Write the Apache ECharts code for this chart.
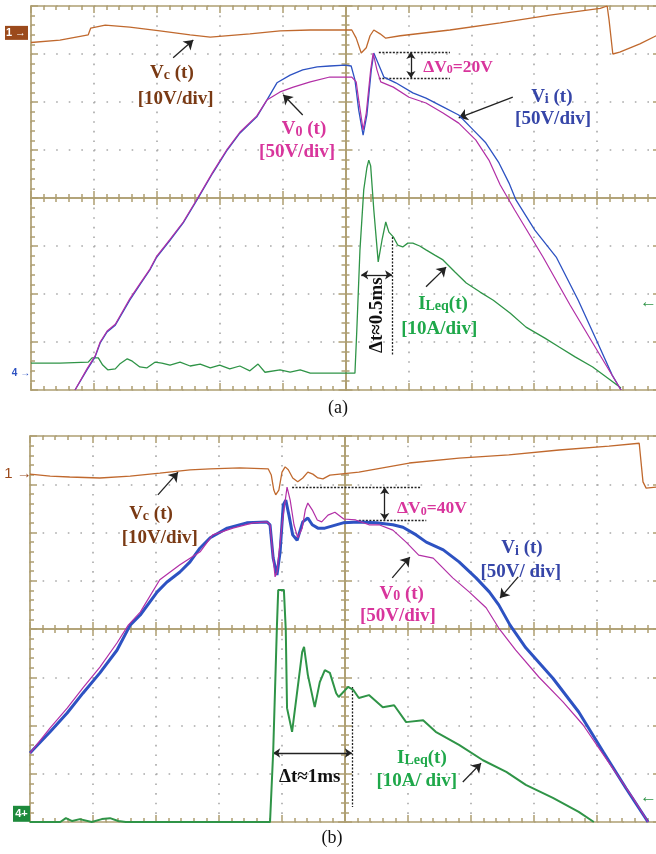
<!DOCTYPE html>
<html>
<head>
<meta charset="utf-8">
<script src="https://cdn.jsdelivr.net/npm/echarts@6/dist/echarts.min.js"></script>
<style>
html,body{margin:0;padding:0;background:#fff;}
#chart{width:656px;height:854px;}
</style>
</head>
<body>
<div id="chart"></div>
<script>
// ---------- DATA (x in divisions 0..10, y in divisions -4..4, 0 = centre line) ----------
// Panel (a)
const vcA = [[0,3.24],[0.46,3.29],[0.91,3.40],[0.95,3.54],[1.18,3.60],[1.57,3.56],[2.05,3.48],[2.53,3.40],[2.85,3.35],[3.48,3.42],[3.96,3.48],[4.44,3.50],[5.10,3.50],[5.17,3.33],[5.25,3.02],[5.33,3.13],[5.39,3.38],[5.45,3.50],[5.55,3.42],[5.64,3.33],[5.87,3.38],[6.66,3.50],[7.46,3.65],[8.25,3.81],[9.05,3.95],[9.16,4.0],[9.19,3.71],[9.25,3.00],[9.36,3.04],[9.68,3.21],[9.94,3.38]];
const viA = [[0.70,-4.0],[0.89,-3.58],[1.02,-3.31],[1.10,-3.02],[1.21,-2.79],[1.34,-2.65],[1.57,-2.13],[1.73,-1.81],[1.89,-1.50],[2.00,-1.23],[2.21,-0.88],[2.42,-0.52],[2.64,-0.04],[2.89,0.52],[3.12,1.0],[3.32,1.35],[3.59,1.69],[3.75,2.04],[3.91,2.40],[4.12,2.56],[4.32,2.67],[4.55,2.73],[4.75,2.75],[4.99,2.77],[5.09,2.75],[5.15,2.46],[5.21,1.83],[5.28,1.31],[5.34,1.73],[5.41,2.67],[5.45,3.02],[5.61,2.52],[5.80,2.40],[6.07,2.19],[6.28,2.08],[6.55,1.90],[6.80,1.73],[7.03,1.42],[7.23,1.15],[7.44,0.73],[7.60,0.31],[7.71,-0.04],[8.01,-0.67],[8.35,-1.23],[8.70,-2.13],[9.01,-3.02],[9.24,-3.69],[9.38,-4.0]];
const v0A = [[0.70,-4.0],[0.89,-3.56],[1.02,-3.29],[1.10,-3.00],[1.21,-2.77],[1.34,-2.63],[1.57,-2.10],[1.73,-1.79],[1.89,-1.48],[2.00,-1.21],[2.21,-0.86],[2.42,-0.50],[2.64,-0.02],[2.89,0.54],[3.12,1.02],[3.32,1.37],[3.59,1.71],[3.75,2.04],[3.96,2.21],[4.17,2.31],[4.44,2.42],[4.75,2.52],[5.10,2.52],[5.17,2.42],[5.21,2.04],[5.28,1.42],[5.33,1.77],[5.40,2.67],[5.44,3.02],[5.50,2.67],[5.56,2.42],[5.76,2.31],[6.01,2.10],[6.28,1.98],[6.55,1.77],[6.80,1.56],[7.07,1.21],[7.28,0.79],[7.46,0.27],[7.69,-0.25],[8.14,-1.23],[8.57,-2.23],[8.93,-3.02],[9.21,-3.63],[9.38,-4.0]];
const ilA = [[0,-3.44],[0.46,-3.44],[0.91,-3.42],[0.97,-3.33],[1.07,-3.33],[1.14,-3.48],[1.22,-3.58],[1.34,-3.56],[1.41,-3.46],[1.53,-3.35],[1.61,-3.40],[1.73,-3.52],[1.84,-3.54],[1.97,-3.42],[2.08,-3.44],[2.21,-3.48],[2.37,-3.42],[2.53,-3.50],[2.69,-3.46],[2.85,-3.54],[3.00,-3.48],[3.16,-3.56],[3.32,-3.50],[3.48,-3.60],[3.61,-3.46],[3.72,-3.63],[3.96,-3.58],[4.12,-3.63],[4.28,-3.58],[4.44,-3.65],[4.75,-3.65],[5.15,-3.65],[5.18,-2.75],[5.23,-1.08],[5.29,0.17],[5.34,0.63],[5.37,0.79],[5.40,0.67],[5.45,-0.25],[5.52,-1.33],[5.58,-0.88],[5.64,-0.50],[5.69,-0.71],[5.76,-0.81],[5.83,-0.98],[5.91,-1.02],[5.99,-0.94],[6.07,-0.94],[6.18,-1.00],[6.28,-1.08],[6.42,-1.19],[6.55,-1.29],[6.74,-1.54],[6.92,-1.77],[7.14,-1.96],[7.35,-2.13],[7.62,-2.40],[7.87,-2.69],[8.17,-2.92],[8.39,-3.10],[8.65,-3.31],[8.93,-3.52],[9.21,-3.79],[9.38,-3.96]];
// Panel (b)
const vcB = [[0,3.21],[0.32,3.17],[0.63,3.15],[1.11,3.13],[1.59,3.17],[2.06,3.23],[2.54,3.30],[2.86,3.32],[3.33,3.34],[3.78,3.32],[3.83,3.19],[3.87,2.88],[3.90,2.78],[3.95,2.88],[4.00,3.25],[4.05,3.36],[4.10,3.30],[4.17,3.13],[4.25,3.05],[4.33,3.13],[4.41,3.25],[4.49,3.21],[4.57,3.13],[4.65,3.11],[4.76,3.19],[5.22,3.25],[6.02,3.44],[6.81,3.54],[7.60,3.61],[8.40,3.71],[9.19,3.79],[9.67,3.85],[9.73,3.05],[9.78,2.92],[9.94,2.94]];
const viB = [[0,-2.57],[0.32,-2.13],[0.59,-1.74],[0.84,-1.33],[1.11,-0.91],[1.38,-0.44],[1.59,0.08],[1.75,0.29],[2.02,0.77],[2.17,0.97],[2.38,1.18],[2.54,1.39],[2.70,1.68],[2.86,1.89],[3.13,2.09],[3.44,2.20],[3.76,2.22],[3.81,2.16],[3.86,1.47],[3.92,1.12],[3.97,1.60],[4.02,2.57],[4.06,2.67],[4.11,2.36],[4.17,1.95],[4.24,1.84],[4.29,2.05],[4.33,2.22],[4.41,2.30],[4.48,2.16],[4.57,2.09],[4.68,2.09],[4.97,2.20],[5.22,2.22],[5.49,2.20],[5.76,2.16],[5.92,2.11],[6.13,1.95],[6.29,1.80],[6.56,1.64],[6.81,1.39],[7.08,1.06],[7.29,0.77],[7.44,0.50],[7.62,0.08],[7.87,-0.39],[8.30,-1.02],[8.71,-1.72],[9.10,-2.55],[9.46,-3.30],[9.81,-4.00]];
const v0B = [[0,-2.57],[0.32,-2.05],[0.59,-1.64],[0.84,-1.22],[1.11,-0.79],[1.38,-0.29],[1.56,0.08],[1.75,0.35],[2.06,1.02],[2.38,1.33],[2.70,1.60],[2.90,1.95],[3.22,2.09],[3.54,2.20],[3.76,2.22],[3.81,2.16],[3.86,1.47],[3.89,1.08],[3.92,1.18],[4.00,2.16],[4.08,2.94],[4.13,2.67],[4.19,2.16],[4.25,1.89],[4.32,2.09],[4.37,2.47],[4.41,2.61],[4.48,2.47],[4.56,2.26],[4.63,2.22],[4.73,2.36],[4.84,2.42],[4.98,2.28],[5.17,2.26],[5.38,2.16],[5.54,2.16],[5.76,2.05],[5.97,1.80],[6.17,1.53],[6.40,1.47],[6.71,1.06],[6.97,0.77],[7.24,0.44],[7.44,0.02],[7.71,-0.44],[8.08,-1.00],[8.46,-1.51],[8.78,-1.99],[9.03,-2.47],[9.30,-2.98],[9.57,-3.50],[9.81,-4.00]];
const ilB = [[0,-4.00],[0.48,-4.00],[0.57,-3.92],[0.67,-3.98],[0.79,-3.94],[0.98,-4.00],[1.14,-3.94],[1.27,-3.92],[1.40,-3.98],[1.52,-4.00],[3.81,-4.00],[3.86,-2.55],[3.92,0.08],[3.94,0.81],[4.03,0.81],[4.06,-0.02],[4.08,-1.64],[4.16,-2.13],[4.24,-1.31],[4.32,-0.48],[4.35,-0.37],[4.41,-0.95],[4.52,-1.62],[4.60,-1.10],[4.68,-0.85],[4.76,-0.91],[4.86,-1.33],[4.90,-1.41],[5.05,-1.20],[5.13,-1.26],[5.22,-1.43],[5.38,-1.37],[5.60,-1.62],[5.78,-1.58],[5.97,-1.93],[6.24,-1.89],[6.44,-2.13],[6.81,-2.40],[7.19,-2.72],[7.56,-2.96],[7.87,-3.23],[8.30,-3.50],[8.71,-3.79],[8.95,-4.00]];

// channel marker levels (divisions)
const markLevelsA = {ch1: 3.44, ch4: -3.65, right: -2.17};
const markLevelsB = {ch1: 3.21, ch4: -3.83, right: -3.48};

// ---------- ANNOTATIONS ----------
const textsA = [
  ['{m|V}{s|c}{m| (t)}', 'brown', 2.24, 2.63],
  ['{m|[10V/div]}', 'brown', 2.30, 2.10],
  ['{m|V}{s|0}{m| (t)}', 'mag', 4.34, 1.46],
  ['{m|[50V/div]}', 'mag', 4.23, 0.98],
  ['{d|ΔV}{ds|0}{d|=20V}', 'mag', 6.79, 2.77],
  ['{m|V}{s|i}{m| (t)}', 'blue', 8.28, 2.13],
  ['{m|[50V/div]}', 'blue', 8.30, 1.67],
  ['{m|I}{s|Leq}{m|(t)}', 'green', 6.55, -2.17],
  ['{m|[10A/div]}', 'green', 6.49, -2.69],
  ['{m|Δt≈0.5ms}', 'black', 5.48, -2.44, 90]
];
const linesA = [
  [[2.26,2.92],[2.58,3.29],'arrow'],
  [[4.32,1.73],[4.01,2.15],'arrow'],
  [[7.66,2.10],[6.80,1.67],'arrow'],
  [[6.28,-1.85],[6.60,-1.44],'arrow'],
  [[5.53,3.04],[6.66,3.04],'dash'],
  [[5.53,2.50],[6.66,2.50],'dash'],
  [[6.04,3.04],[6.04,2.50],'double'],
  [[5.25,-1.60],[5.74,-1.60],'double'],
  [[5.74,-0.81],[5.74,-3.27],'dash']
];
const textsB = [
  ['{m|V}{s|c}{m| (t)}', 'brown', 1.92, 2.42],
  ['{m|[10V/div]}', 'brown', 2.06, 1.91],
  ['{d|ΔV}{ds|0}{d|=40V}', 'mag', 6.38, 2.53],
  ['{m|V}{s|0}{m| (t)}', 'mag', 5.90, 0.75],
  ['{m|[50V/div]}', 'mag', 5.84, 0.29],
  ['{m|V}{s|i}{m| (t)}', 'blue', 7.81, 1.70],
  ['{m|[50V/ div]}', 'blue', 7.79, 1.22],
  ['{m|Δt≈1ms}', 'black', 4.44, -3.03],
  ['{m|I}{s|Leq}{m|(t)}', 'green', 6.22, -2.65],
  ['{m|[10A/ div]}', 'green', 6.14, -3.13]
];
const linesB = [
  [[2.03,2.78],[2.35,3.25],'arrow'],
  [[5.75,1.06],[6.03,1.49],'arrow'],
  [[7.75,1.08],[7.46,0.64],'arrow'],
  [[6.87,-3.17],[7.16,-2.78],'arrow'],
  [[4.16,2.94],[6.21,2.94],'dash'],
  [[5.22,2.26],[6.29,2.26],'dash'],
  [[5.63,2.94],[5.63,2.26],'double'],
  [[3.86,-2.57],[5.11,-2.57],'double'],
  [[5.11,-1.20],[5.11,-3.69],'dash']
];

// ---------- STYLE ----------
const TAN = '#ae9f72';
const DOT = '#a9a9a9';
const TRACE = {brown:'#c0692e', blue:'#2d52c2', mag:'#b22fa6', green:'#2f9447'};
const TEXTC = {brown:'#7a3a14', blue:'#3646a8', mag:'#d8359c', green:'#1fa84a', black:'#111'};
const SERIF = '"Liberation Serif","DejaVu Serif",serif';
const grids = [
  {left:31, top:6, width:629, height:384},
  {left:30, top:436, width:630, height:386}
];

function ax(dim, gi, pos, offset, split, g) {
  const isX = dim === 'x';
  const dx = g.width / 10, dy = g.height / 8;
  return {
    type:'value', gridIndex:gi, position:pos, offset:offset,
    min: isX ? 0 : -4, max: isX ? 10 : 4, interval:1,
    axisLine:{show:true, onZero:false, lineStyle:{color:TAN, width:1.7}},
    axisTick:{show:true, inside:true, length:7, lineStyle:{color:TAN, width:1.5}},
    minorTick:{show:true, splitNumber:5, length:4, lineStyle:{color:TAN, width:1.5}},
    axisLabel:{show:false},
    splitLine:{show:split, lineStyle:{color:DOT, width:1.6, type: isX ? [1.6, dy/5 - 1.6] : [1.6, dx/5 - 1.6]}},
    minorSplitLine:{show:false},
    axisPointer:{show:false},
    silent:true
  };
}
const xAxes = [], yAxes = [];
grids.forEach((g, gi) => {
  xAxes.push(ax('x', gi, 'bottom', 0, true, g));
  xAxes.push(ax('x', gi, 'top', 0, false, g));
  xAxes.push(ax('x', gi, 'bottom', -g.height/2, false, g));
  xAxes.push(ax('x', gi, 'top', -g.height/2, false, g));
  yAxes.push(ax('y', gi, 'left', 0, true, g));
  yAxes.push(ax('y', gi, 'right', 0, false, g));
  yAxes.push(ax('y', gi, 'left', -g.width/2, false, g));
  yAxes.push(ax('y', gi, 'right', -g.width/2, false, g));
});

function trace(name, data, gi, key, width, z) {
  return {
    type:'line', name, data, xAxisIndex: gi*4, yAxisIndex: gi*4,
    showSymbol:false, symbol:'none', smooth:false, silent:true, animation:false,
    lineStyle:{color:TRACE[key], width:width}, itemStyle:{color:TRACE[key]}, z:z
  };
}

function annotSeries(gi, texts, lines) {
  const mlData = lines.map(([a, b, kind]) => {
    const ls = kind === 'dash'
      ? {color:'#222', width:1.3, type:[2,1.5]}
      : {color:'#222', width:1.3, type:'solid'};
    return [
      {coord:a, symbol: kind === 'double' ? 'arrow' : 'none', symbolSize: 7, lineStyle: ls},
      {coord:b, symbol: (kind === 'arrow' || kind === 'double') ? 'arrow' : 'none', symbolSize: kind === 'arrow' ? 9 : 7}
    ];
  });
  const mpData = texts.map(([f, col, x, y, rot]) => {
    const c = TEXTC[col];
    const tok = (size) => ({fontFamily:SERIF, fontWeight:'bold', fontSize:size, color:c, verticalAlign:'bottom', lineHeight:22});
    return {
      coord:[x, y], symbol:'circle', symbolSize:1, itemStyle:{color:'rgba(0,0,0,0)'},
      label:{
        show:true, position:'inside', formatter:f, rotate: rot || 0,
        rich:{ m: tok(19), s: tok(14), d: tok(17.5), ds: tok(12) }
      }
    };
  });
  return {
    type:'line', name:'annot'+gi, data:[], xAxisIndex: gi*4, yAxisIndex: gi*4, silent:true, animation:false, z:20,
    markLine:{silent:true, animation:false, label:{show:false}, emphasis:{disabled:true}, symbolSize:8, data: mlData},
    markPoint:{silent:true, animation:false, emphasis:{disabled:true}, data: mpData}
  };
}

const chart = echarts.init(document.getElementById('chart'), null, {renderer:'canvas'});
const option = {
  backgroundColor:'#fff',
  animation:false,
  grid: grids.map(g => Object.assign({containLabel:false, outerBoundsMode:'none'}, g)),
  xAxis: xAxes,
  yAxis: yAxes,
  series: [
    trace('Vc a', vcA, 0, 'brown', 1.3, 5),
    trace('ILeq a', ilA, 0, 'green', 1.3, 5),
    trace('Vi a', viA, 0, 'blue', 1.3, 6),
    trace('V0 a', v0A, 0, 'mag', 1.2, 7),
    trace('Vc b', vcB, 1, 'brown', 1.3, 5),
    trace('ILeq b', ilB, 1, 'green', 2.0, 5),
    trace('Vi b', viB, 1, 'blue', 3.0, 6),
    trace('V0 b', v0B, 1, 'mag', 1.2, 7),
    annotSeries(0, textsA, linesA),
    annotSeries(1, textsB, linesB)
  ]
};
chart.setOption(option);

// channel markers and captions
const yA = k => chart.convertToPixel({seriesIndex:0}, [0, markLevelsA[k]])[1];
const yB = k => chart.convertToPixel({seriesIndex:4}, [0, markLevelsB[k]])[1];
const g = [];
g.push({type:'rect', shape:{x:5, y:yA('ch1')-7, width:23, height:14}, style:{fill:'#9b4a1c'}});
g.push({type:'text', x:16, y:yA('ch1'), style:{text:'1 →', fill:'#fff', font:'bold 11px sans-serif', align:'center', verticalAlign:'middle'}});
g.push({type:'text', x:21, y:yA('ch4'), style:{text:'4 →', fill:'#2d52c2', font:'bold 10px sans-serif', align:'center', verticalAlign:'middle'}});
g.push({type:'text', x:657, y:yA('right'), style:{text:'←', fill:'#2f9447', font:'bold 17px sans-serif', align:'right', verticalAlign:'middle'}});
g.push({type:'text', x:18, y:yB('ch1'), style:{text:'1 →', fill:'#9b4a1c', font:'15px sans-serif', align:'center', verticalAlign:'middle'}});
g.push({type:'rect', shape:{x:13, y:yB('ch4')-8, width:17, height:16}, style:{fill:'#1e8a3c'}});
g.push({type:'text', x:21.5, y:yB('ch4'), style:{text:'4+', fill:'#fff', font:'bold 11px sans-serif', align:'center', verticalAlign:'middle'}});
g.push({type:'text', x:657, y:yB('right'), style:{text:'←', fill:'#2f9447', font:'bold 17px sans-serif', align:'right', verticalAlign:'middle'}});
g.push({type:'text', x:338, y:408, style:{text:'(a)', fill:'#111', font:'18px "Liberation Serif", serif', align:'center', verticalAlign:'middle'}});
g.push({type:'text', x:332, y:838, style:{text:'(b)', fill:'#111', font:'18px "Liberation Serif", serif', align:'center', verticalAlign:'middle'}});
chart.setOption({graphic: g.map(e => Object.assign({silent:true, z:100}, e))});
</script>
</body>
</html>
